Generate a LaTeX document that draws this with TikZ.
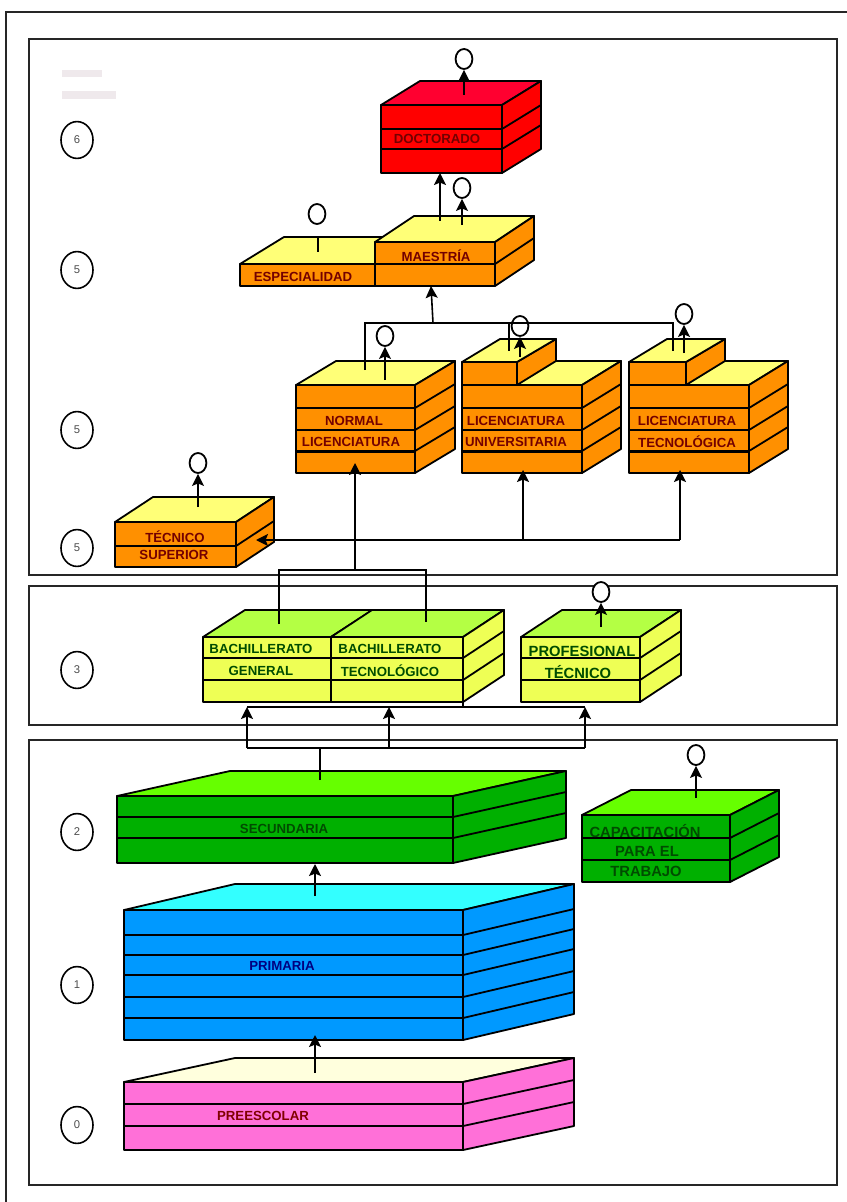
\documentclass[tikz,border=0pt]{standalone}
\usepackage{fontspec}
\setsansfont{Liberation Sans}
\usetikzlibrary{arrows.meta,shapes.geometric}
\definecolor{nred}{HTML}{FF0000}
\definecolor{nredtop}{HTML}{FF0030}
\definecolor{norange}{HTML}{FF9000}
\definecolor{nlemon}{HTML}{FFFF77}
\definecolor{nyellow}{HTML}{EEFF55}
\definecolor{nlime}{HTML}{B4FF44}
\definecolor{ngreen}{HTML}{00B000}
\definecolor{ngrass}{HTML}{66FF00}
\definecolor{nblue}{HTML}{0099FF}
\definecolor{ncyan}{HTML}{33FFFF}
\definecolor{npink}{HTML}{FF70D8}
\definecolor{ncream}{HTML}{FFFFDD}
\definecolor{nfaint}{HTML}{EFE9EC}
\tikzset{
 panel/.style={draw=black!85, line width=0.5mm},
 boxline/.style={draw=black, line width=0.45mm, line join=round},
 link/.style={draw=black, line width=0.4mm},
 arr/.style={link, -{Stealth[length=3mm,width=3mm,inset=0.6mm]}},
 lab/.style={font=\sffamily\bfseries\fontsize{9.4}{10}\selectfont, inner sep=0pt},
 biglab/.style={font=\sffamily\bfseries\fontsize{10.5}{11}\selectfont, inner sep=0pt},
 level/.style={ellipse, draw=black, line width=0.4mm, fill=white, minimum width=8mm, minimum height=9.2mm, inner sep=0pt, font=\sffamily\fontsize{8}{9}\selectfont, text=black!70},
 bulb/.style={ellipse, draw=black, line width=0.45mm, fill=white, minimum width=4.2mm, minimum height=5mm, inner sep=0pt}
}
% x0,y0,x1,y1 front; dx,dy depth; rows; front and top colours
\newcommand{\stackbox}[9]{
 \fill[#9, boxline] (#1,#2) -- ++(#5,-#6) -- (#3+#5,#2-#6) -- (#3,#2) -- cycle;
 \fill[#8, boxline] (#3,#2) -- (#3+#5,#2-#6) -- (#3+#5,#4-#6) -- (#3,#4) -- cycle;
 \fill[#8, boxline] (#1,#2) rectangle (#3,#4);
 \foreach \r in {#7} {
  \draw[boxline] (#1,\r) -- (#3,\r) -- (#3+#5,\r-#6);
 }
}
% x0,xn front of the raised part, y top and y bottom of it
\newcommand{\raisedbox}[4]{
 \fill[norange, boxline] (#2,#4) -- (#2,#3) -- (#2+39,#3-23) -- (#2+39,#4-24) -- cycle;
 \fill[nlemon, boxline] (#1,#3) -- (#1+38,#3-23) -- (#2+39,#3-23) -- (#2,#3) -- cycle;
 \fill[norange, boxline] (#1,#3) rectangle (#2,#4);
}
\begin{document}
\begin{tikzpicture}[x=0.25mm, y=-0.25mm]
 \useasboundingbox (0,0) rectangle (847,1202);
 \draw[panel] (6,1202) -- (6,12) -- (847,12);
 \draw[panel] (29,39) rectangle (837,575);
 \draw[panel] (29,586) rectangle (837,725);
 \draw[panel] (29,740) rectangle (837,1185);
 \fill[nfaint] (62,70) rectangle (102,77);
 \fill[nfaint] (62,91) rectangle (116,99);
 \foreach \n/\t/\y in {levela/6/140,levelb/5/270,levelc/5/430,leveld/5/548,levele/3/670,levelf/2/832,levelg/1/985,levelh/0/1125}
  \node[level] (\n) at (77,\y) {\t};

 \stackbox{381}{105}{502}{173}{39}{24}{129,149}{nred}{nredtop}
 \stackbox{240}{264}{375}{286}{44}{27}{}{norange}{nlemon}
 \stackbox{375}{242}{495}{286}{39}{26}{264}{norange}{nlemon}
 \stackbox{296}{385}{415}{473}{40}{24}{408,430,451}{norange}{nlemon}
 \stackbox{462}{385}{582}{473}{39}{24}{408,430,451}{norange}{nlemon}
 \raisedbox{462}{517}{362}{385}
 \stackbox{629}{385}{749}{473}{39}{24}{408,430,451}{norange}{nlemon}
 \raisedbox{629}{686}{362}{385}
 \foreach \a/\b in {296/415,462/582,629/749}
  \draw[boxline, line width=0.8mm] (\a,451.5) -- (\b,451.5);
 \stackbox{115}{522}{236}{567}{38}{25}{546}{norange}{nlemon}
 \stackbox{203}{637}{331}{702}{42}{27}{658,680}{nyellow}{nlime}
 \stackbox{331}{637}{463}{702}{41}{27}{658,680}{nyellow}{nlime}
 \stackbox{521}{637}{640}{702}{41}{27}{658,680}{nyellow}{nlime}
 \stackbox{117}{796}{453}{863}{113}{25}{817,838}{ngreen}{ngrass}
 \stackbox{582}{815}{730}{882}{49}{25}{838,860}{ngreen}{ngrass}
 \stackbox{124}{910}{463}{1040}{111}{26}{935,955,975,997,1018}{nblue}{ncyan}
 \stackbox{124}{1082}{463}{1150}{111}{24}{1104,1126}{npink}{ncream}

 \foreach \n/\x/\y/\t in {ldoc/437/139/DOCTORADO,lmae/436/256/MAESTRÍA,lesp/303/277/ESPECIALIDAD,lnora/354/421/NORMAL,lnorb/351/442/LICENCIATURA,luna/516/421/LICENCIATURA,lunb/516/442/UNIVERSITARIA,ltea/687/421/LICENCIATURA,lteb/687/442/TECNOLÓGICA,lsupa/175/537/TÉCNICO,lsupb/174/555/SUPERIOR}
  \node[lab, text=red!45!black] (\n) at (\x,\y) {\t};
 \foreach \n/\x/\y/\t in {lgena/261/649/BACHILLERATO,lgenb/261/671/GENERAL,ltca/390/649/BACHILLERATO,ltcb/390/671/TECNOLÓGICO,lseca/284/829/SECUNDARIA}
  \node[lab, text=green!30!black] (\n) at (\x,\y) {\t};
 \foreach \n/\x/\y/\t in {lpra/582/651/PROFESIONAL,lprb/578/672/TÉCNICO,lcapa/645/831/CAPACITACIÓN,lcapb/647/851/PARA EL,lcapc/646/871/TRABAJO}
  \node[biglab, text=green!30!black] (\n) at (\x,\y) {\t};
 \node[lab, text=blue!50!black] (lpri) at (282,966) {PRIMARIA};
 \node[lab, text=red!50!black] (lpre) at (263,1116) {PREESCOLAR};

 \foreach \n/\x/\y in {bdoc/464/59,bmae/462/188,besp/317/214,bnor/385/336,buni/520/326,btec/684/314,bsup/198/463,bpro/601/592,bcap/696/755}
  \node[bulb] (\n) at (\x,\y) {};
 \foreach \n/\x/\y in {cdoc/464/95,cmae/462/225,cnor/385/380,cuni/520/357,ctec/684/353,csup/198/507,cpro/601/627,ccap/696/798}
  \coordinate (\n) at (\x,\y);
 \foreach \c/\b in {cdoc/bdoc,cmae/bmae,cnor/bnor,cuni/buni,ctec/btec,csup/bsup,cpro/bpro,ccap/bcap}
  \draw[arr] (\c) -- (\b);
 \coordinate (espa) at (318,252);
 \coordinate (espb) at (318,237);
 \draw[link] (espa) -- (espb);

 \coordinate (maeup) at (440,221);
 \coordinate (docin) at (440,173);
 \draw[arr] (maeup) -- (docin);
 \coordinate (licup) at (433,323);
 \coordinate (maein) at (431,286);
 \draw[arr] (licup) -- (maein);
 \coordinate (nortop) at (365,370);
 \coordinate (unitop) at (509,351);
 \coordinate (tectop) at (673,351);
 \draw[link] (nortop) |- (tectop |- licup) -- (tectop);
 \draw[link] (unitop |- licup) -- (unitop);

 \coordinate (supin) at (256,540);
 \coordinate (tecin) at (680,470);
 \coordinate (uniin) at (523,470);
 \coordinate (norin) at (355,463);
 \coordinate (brmid) at (355,570);
 \draw[arr] (tecin |- supin) -- (supin);
 \draw[arr] (tecin |- supin) -- (tecin);
 \draw[arr] (uniin |- supin) -- (uniin);
 \draw[arr] (brmid) -- (norin);
 \coordinate (genup) at (279,624);
 \coordinate (tcup) at (426,622);
 \draw[link] (genup) |- (brmid) -| (tcup);

 \coordinate (secup) at (320,780);
 \coordinate (brlow) at (320,748);
 \coordinate (bargen) at (247,707);
 \coordinate (bartec) at (389,707);
 \coordinate (barpro) at (585,707);
 \coordinate (bacha) at (463,702);
 \draw[link] (secup) -- (brlow);
 \draw[link] (bargen |- brlow) -- (barpro |- brlow);
 \draw[link] (bargen) -- (barpro);
 \draw[link] (bacha) -- (bacha |- bargen);
 \foreach \b in {bargen,bartec,barpro} \draw[arr] (\b |- brlow) -- (\b);

 \coordinate (priup) at (315,896);
 \coordinate (secin) at (315,864);
 \coordinate (preup) at (315,1073);
 \coordinate (priin) at (315,1035);
 \draw[arr] (priup) -- (secin);
 \draw[arr] (preup) -- (priin);
\end{tikzpicture}
\end{document}
